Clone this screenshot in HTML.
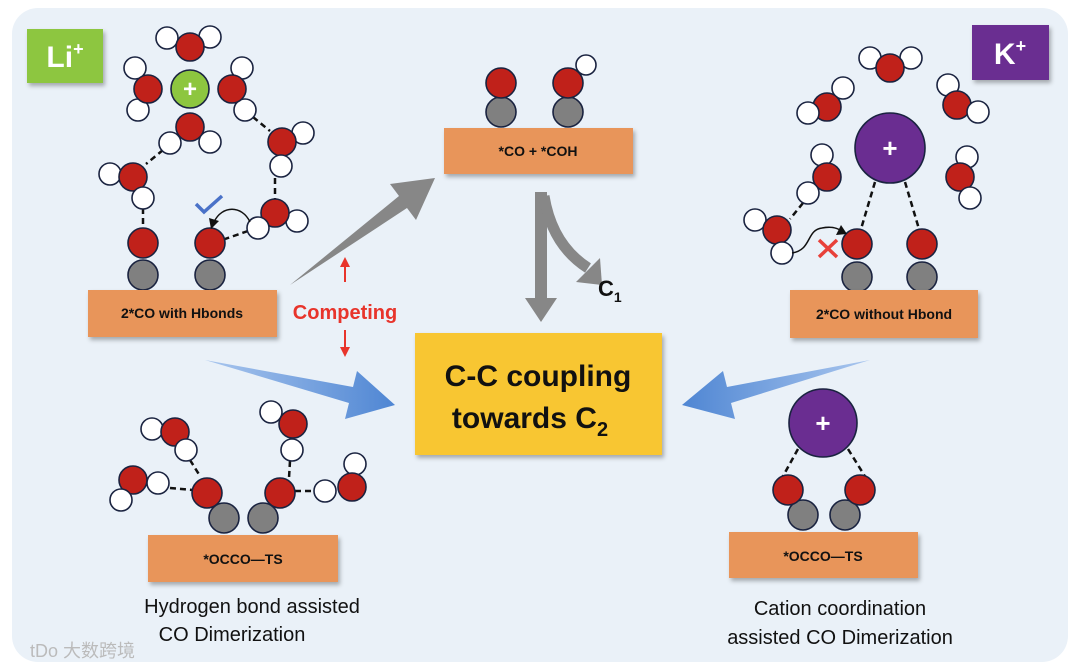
<!DOCTYPE html>
<html><head><meta charset="utf-8"><style>
html,body{margin:0;padding:0;background:#fff;}
svg{display:block;font-family:"Liberation Sans",Arial,sans-serif;}
</style></head><body>
<svg width="1080" height="670" viewBox="0 0 1080 670" xmlns="http://www.w3.org/2000/svg">
<defs>
<filter id="sh" x="-10%" y="-10%" width="130%" height="140%"><feDropShadow dx="2" dy="3" stdDeviation="2" flood-color="#000" flood-opacity="0.3"/></filter>
<linearGradient id="bl" x1="0" x2="1"><stop offset="0" stop-color="#a9c6ee"/><stop offset="1" stop-color="#4f86d3"/></linearGradient>
<linearGradient id="br" x1="1" x2="0"><stop offset="0" stop-color="#a9c6ee"/><stop offset="1" stop-color="#4f86d3"/></linearGradient>
</defs>
<rect x="12" y="8" width="1056" height="654" rx="26" fill="#eaf1f8"/>

<g stroke="#1a2340" stroke-width="1.6">
<!-- dashed hbonds -->
<g stroke="#111" stroke-width="2.5" stroke-dasharray="6,4" fill="none">
<line x1="163" y1="150" x2="146" y2="164"/>
<line x1="143" y1="208" x2="143" y2="228"/>
<line x1="253" y1="117" x2="270" y2="131"/>
<line x1="275" y1="178" x2="275" y2="199"/>
<line x1="248" y1="231" x2="225" y2="239"/>
<line x1="875" y1="182" x2="861" y2="229"/>
<line x1="905" y1="182" x2="919" y2="229"/>
<line x1="803" y1="203" x2="790" y2="219"/>
<line x1="190" y1="460" x2="200" y2="476"/>
<line x1="170" y1="488" x2="193" y2="490"/>
<line x1="290" y1="461" x2="289" y2="478"/>
<line x1="295" y1="491" x2="313" y2="491"/>
<line x1="798" y1="449" x2="782" y2="478"/>
<line x1="848" y1="449" x2="866" y2="478"/>
</g>

<!-- Li cluster -->
<circle cx="167" cy="38" r="11" fill="#fff"/><circle cx="210" cy="37" r="11" fill="#fff"/><circle cx="190" cy="47" r="14" fill="#c0211a"/>
<circle cx="190" cy="89" r="19" fill="#8dc63f"/>
<circle cx="135" cy="68" r="11" fill="#fff"/><circle cx="138" cy="110" r="11" fill="#fff"/><circle cx="148" cy="89" r="14" fill="#c0211a"/>
<circle cx="242" cy="68" r="11" fill="#fff"/><circle cx="245" cy="110" r="11" fill="#fff"/><circle cx="232" cy="89" r="14" fill="#c0211a"/>
<circle cx="190" cy="127" r="14" fill="#c0211a"/><circle cx="170" cy="143" r="11" fill="#fff"/><circle cx="210" cy="142" r="11" fill="#fff"/>
<circle cx="110" cy="174" r="11" fill="#fff"/><circle cx="133" cy="177" r="14" fill="#c0211a"/><circle cx="143" cy="198" r="11" fill="#fff"/>
<circle cx="303" cy="133" r="11" fill="#fff"/><circle cx="282" cy="142" r="14" fill="#c0211a"/><circle cx="281" cy="166" r="11" fill="#fff"/>
<circle cx="297" cy="221" r="11" fill="#fff"/><circle cx="275" cy="213" r="14" fill="#c0211a"/><circle cx="258" cy="228" r="11" fill="#fff"/>
<circle cx="143" cy="275" r="15" fill="#808080"/><circle cx="143" cy="243" r="15" fill="#c0211a"/>
<circle cx="210" cy="275" r="15" fill="#808080"/><circle cx="210" cy="243" r="15" fill="#c0211a"/>

<!-- top middle -->
<circle cx="501" cy="112" r="15" fill="#808080"/><circle cx="501" cy="83" r="15" fill="#c0211a"/>
<circle cx="568" cy="112" r="15" fill="#808080"/><circle cx="568" cy="83" r="15" fill="#c0211a"/><circle cx="586" cy="65" r="10" fill="#fff"/>

<!-- K cluster -->
<circle cx="870" cy="58" r="11" fill="#fff"/><circle cx="911" cy="58" r="11" fill="#fff"/><circle cx="890" cy="68" r="14" fill="#c0211a"/>
<circle cx="843" cy="88" r="11" fill="#fff"/><circle cx="827" cy="107" r="14" fill="#c0211a"/><circle cx="808" cy="113" r="11" fill="#fff"/>
<circle cx="948" cy="85" r="11" fill="#fff"/><circle cx="957" cy="105" r="14" fill="#c0211a"/><circle cx="978" cy="112" r="11" fill="#fff"/>
<circle cx="890" cy="148" r="35" fill="#6a2d91"/>
<circle cx="822" cy="155" r="11" fill="#fff"/><circle cx="827" cy="177" r="14" fill="#c0211a"/><circle cx="808" cy="193" r="11" fill="#fff"/>
<circle cx="967" cy="157" r="11" fill="#fff"/><circle cx="960" cy="177" r="14" fill="#c0211a"/><circle cx="970" cy="198" r="11" fill="#fff"/>
<circle cx="755" cy="220" r="11" fill="#fff"/><circle cx="777" cy="230" r="14" fill="#c0211a"/><circle cx="782" cy="253" r="11" fill="#fff"/>
<circle cx="857" cy="277" r="15" fill="#808080"/><circle cx="857" cy="244" r="15" fill="#c0211a"/>
<circle cx="922" cy="277" r="15" fill="#808080"/><circle cx="922" cy="244" r="15" fill="#c0211a"/>

<!-- lower left -->
<circle cx="152" cy="429" r="11" fill="#fff"/><circle cx="175" cy="432" r="14" fill="#c0211a"/><circle cx="186" cy="450" r="11" fill="#fff"/>
<circle cx="133" cy="480" r="14" fill="#c0211a"/><circle cx="158" cy="483" r="11" fill="#fff"/><circle cx="121" cy="500" r="11" fill="#fff"/>
<circle cx="224" cy="518" r="15" fill="#808080"/><circle cx="207" cy="493" r="15" fill="#c0211a"/>
<circle cx="263" cy="518" r="15" fill="#808080"/><circle cx="280" cy="493" r="15" fill="#c0211a"/>
<circle cx="271" cy="412" r="11" fill="#fff"/><circle cx="293" cy="424" r="14" fill="#c0211a"/><circle cx="292" cy="450" r="11" fill="#fff"/>
<circle cx="355" cy="464" r="11" fill="#fff"/><circle cx="352" cy="487" r="14" fill="#c0211a"/><circle cx="325" cy="491" r="11" fill="#fff"/>

<!-- lower right -->
<circle cx="823" cy="423" r="34" fill="#6a2d91"/>
<circle cx="803" cy="515" r="15" fill="#808080"/><circle cx="788" cy="490" r="15" fill="#c0211a"/>
<circle cx="845" cy="515" r="15" fill="#808080"/><circle cx="860" cy="490" r="15" fill="#c0211a"/>
</g>

<!-- plus signs -->
<g fill="#fff" font-weight="bold" text-anchor="middle">
<text x="190" y="97" font-size="24">+</text>
<text x="890" y="157" font-size="26">+</text>
<text x="823" y="432" font-size="26">+</text>
</g>

<!-- check & x & curved arrows -->
<path d="M196 204 L204 212 L222 196" fill="none" stroke="#4a72c8" stroke-width="3.5"/>
<path d="M250 222 C242 205 222 205 214 222" fill="none" stroke="#111" stroke-width="1.5"/>
<polygon points="211,229 209,218 219,221" fill="#111"/>
<path d="M792 253 C812 250 806 230 822 228 C832 226 838 228 843 232" fill="none" stroke="#111" stroke-width="1.5"/>
<polygon points="847,234 836,235 841,225" fill="#111"/>
<path d="M819 240 L837 257 M837 240 L819 257" stroke="#e8413a" stroke-width="3.5"/>

<!-- labels boxes -->
<rect x="27" y="29" width="76" height="54" fill="#8dc63f" filter="url(#sh)"/>
<text x="65" y="67" font-size="30" font-weight="bold" fill="#fff" text-anchor="middle">Li<tspan font-size="18" dy="-12">+</tspan></text>
<rect x="972" y="25" width="77" height="55" fill="#6a2d91" filter="url(#sh)"/>
<text x="1010" y="64" font-size="30" font-weight="bold" fill="#fff" text-anchor="middle">K<tspan font-size="18" dy="-12">+</tspan></text>

<g filter="url(#sh)" fill="#e8955a">
<rect x="88" y="290" width="189" height="47"/>
<rect x="444" y="128" width="189" height="46"/>
<rect x="790" y="290" width="188" height="48"/>
<rect x="148" y="535" width="190" height="47"/>
<rect x="729" y="532" width="189" height="46"/>
</g>
<g font-size="14" font-weight="bold" fill="#111" text-anchor="middle">
<text x="182" y="318">2*CO with Hbonds</text>
<text x="538" y="156">*CO + *COH</text>
<text x="884" y="319">2*CO without Hbond</text>
<text x="243" y="564">*OCCO—TS</text>
<text x="823" y="561">*OCCO—TS</text>
</g>

<!-- arrows -->
<polygon points="290,285 399,196 390,184 435,178 416,220 407,208" fill="#878787"/>
<polygon points="535,192 547,192 547,298 557,298 541,322 525,298 535,298" fill="#878787"/>
<path d="M544 196 Q552 245 588 268" fill="none" stroke="#878787" stroke-width="11"/>
<polygon points="576,282 600,258 602,285" fill="#878787"/>
<text x="598" y="296" font-size="22" font-weight="bold" fill="#111">C<tspan font-size="14" dy="6">1</tspan></text>

<polygon points="205,360 353,387 357,371 395,405 345,419 349,403" fill="url(#bl)"/>
<polygon points="870,360 727,387 723,371 682,405 735,419 731,403" fill="url(#br)"/>

<!-- competing -->
<text x="345" y="319" font-size="20" font-weight="bold" fill="#e8342b" text-anchor="middle">Competing</text>
<line x1="345" y1="282" x2="345" y2="266" stroke="#e8342b" stroke-width="2"/>
<polygon points="340,267 350,267 345,257" fill="#e8342b"/>
<line x1="345" y1="330" x2="345" y2="348" stroke="#e8342b" stroke-width="2"/>
<polygon points="340,347 350,347 345,357" fill="#e8342b"/>

<!-- center -->
<rect x="415" y="333" width="247" height="122" fill="#f8c630" filter="url(#sh)"/>
<g font-size="30" font-weight="bold" fill="#111" text-anchor="middle">
<text x="538" y="386">C-C coupling</text>
<text x="530" y="428">towards C<tspan font-size="20" dy="8">2</tspan></text>
</g>

<!-- captions -->
<g font-size="20" fill="#111" text-anchor="middle">
<text x="252" y="613">Hydrogen bond assisted</text>
<text x="232" y="641">CO Dimerization</text>
<text x="840" y="615">Cation coordination</text>
<text x="840" y="644">assisted CO Dimerization</text>
</g>
<text x="30" y="657" font-size="18" fill="#bbb" font-family="'Liberation Sans','Noto Sans CJK SC',sans-serif">tDo 大数跨境</text>
</svg>
</body></html>
